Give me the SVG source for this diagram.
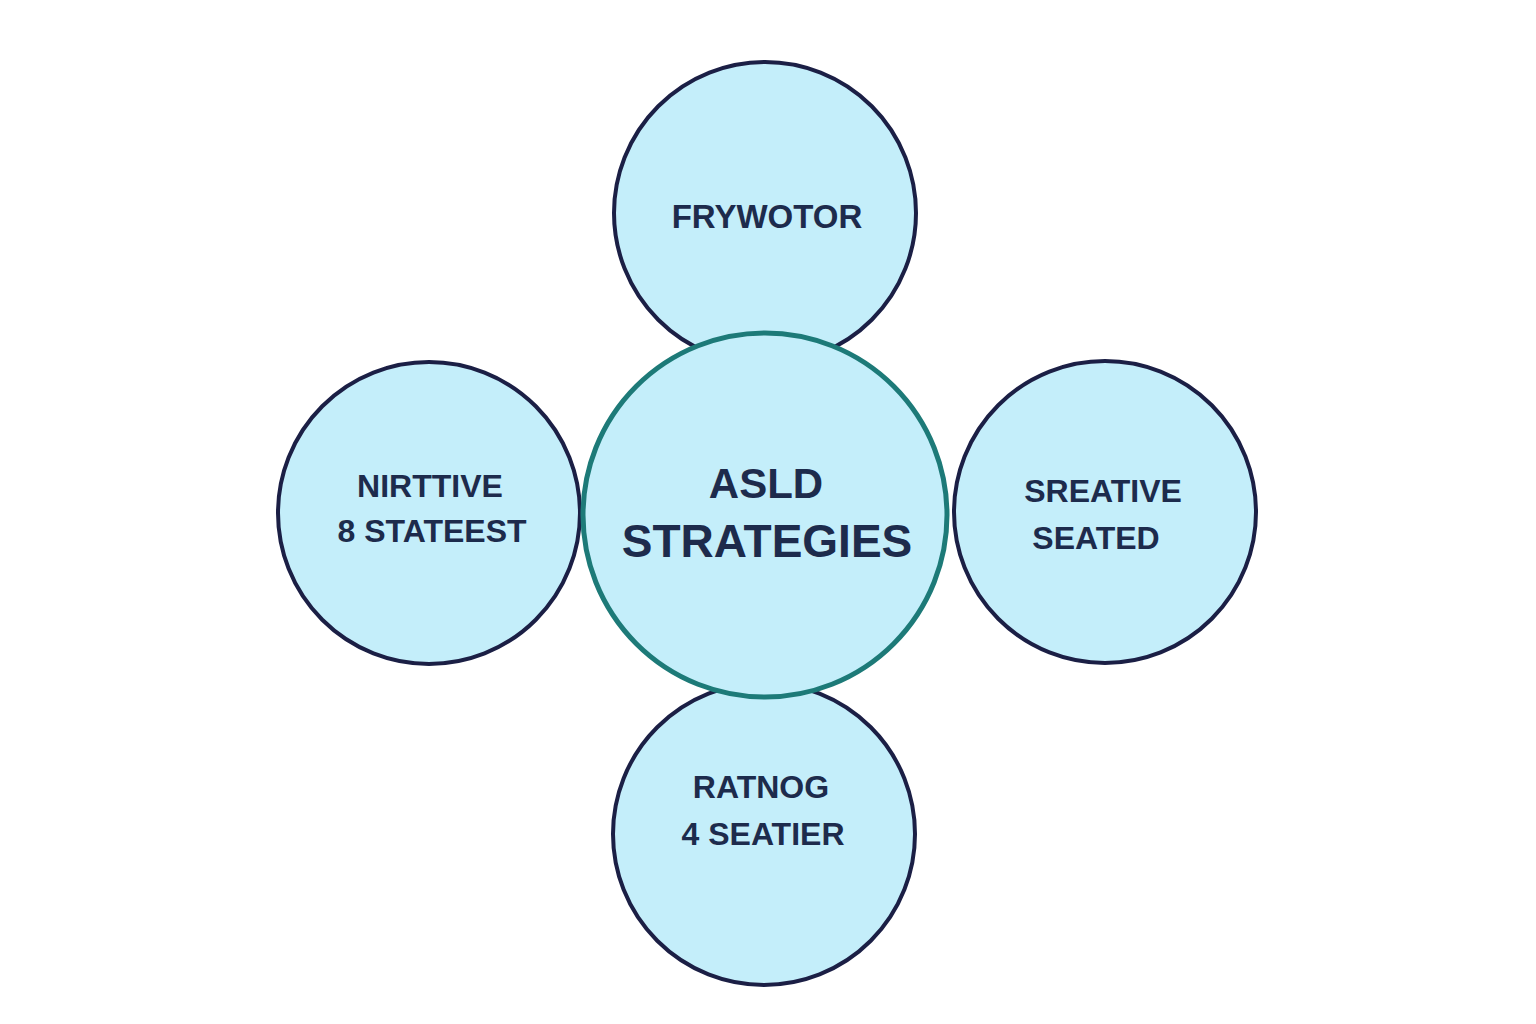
<svg xmlns="http://www.w3.org/2000/svg" width="1536" height="1024" viewBox="0 0 1536 1024">
<style>
.sat{fill:#c4eefa;stroke:#1b1f45;stroke-width:4}
.ctr{fill:#c4eefa;stroke:#1d7a78;stroke-width:5}
.t{font-family:"Liberation Sans",Arial,sans-serif;font-weight:bold;fill:#1d2b4c;text-anchor:middle}
</style>
<rect width="1536" height="1024" fill="#ffffff"/>
<g id="connectors"></g>
<g id="node-top"><circle class="sat" cx="765" cy="213" r="151"/><text class="t" x="767" y="228" font-size="33">FRYWOTOR</text></g>
<g id="node-left"><circle class="sat" cx="429" cy="513" r="151"/><text class="t" x="430" y="497" font-size="32">NIRTTIVE</text><text class="t" x="432" y="542" font-size="32">8 STATEEST</text></g>
<g id="node-right"><circle class="sat" cx="1105" cy="512" r="151"/><text class="t" x="1103" y="502" font-size="32">SREATIVE</text><text class="t" x="1096" y="549" font-size="32">SEATED</text></g>
<g id="node-bottom"><circle class="sat" cx="764" cy="834" r="151"/><text class="t" x="761" y="798" font-size="32">RATNOG</text><text class="t" x="763" y="845" font-size="32">4 SEATIER</text></g>
<g id="node-center"><circle class="ctr" cx="765" cy="515" r="182"/><text class="t" x="766" y="498" font-size="42">ASLD</text><text class="t" x="767" y="557" font-size="46">STRATEGIES</text></g>
</svg>
